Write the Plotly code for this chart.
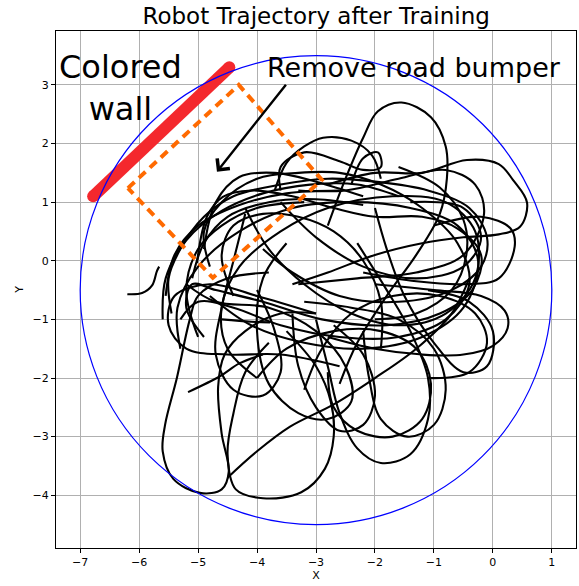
import plotly.graph_objects as go

# ---- data ----
x_range = [-7.41, 1.41]
y_range = [-4.9, 3.92]
x_ticks = [-7, -6, -5, -4, -3, -2, -1, 0, 1]
y_ticks = [-4, -3, -2, -1, 0, 1, 2, 3]

arena_center = (-3.0, -0.5)
arena_radius = 4.0

wall_x = [-6.78, -4.47]
wall_y = [1.10, 3.30]

bumper_x = [-6.19, -4.31, -2.90, -4.75, -6.19]
bumper_y = [1.24, 3.00, 1.38, -0.29, 1.24]

arrow_tail = (-3.49, 3.03)
arrow_head = (-4.68, 1.52)

traj_x = [
    -6.2, -5.95, -5.78, -5.7, -5.66, None,
    -5.45, -5.5, -5.3, -4.9, -4.4, -3.6, -2.8, -2.0, -1.1, -0.4, -0.1, -0.2, -0.7, -1.6, -2.6, -3.4, -3.9, None,
    -4.8, -4.9, -4.6, -4.0, -3.3, -2.6, -1.9, -1.2, -0.6, -0.4, -0.8, -1.6, -2.6, -3.6, -4.4, -5.0, -5.3, None,
    -2.8, -2.5, -2.2, -1.95, -1.55, -1.05, -0.8, -0.78, -0.9, -1.3, -1.8, -2.3, -2.6, None,
    -2.8, -2.0, -1.2, -0.44, 0.1, 0.34, 0.58, 0.46, 0.1, -0.5, -1.2, -2.0, -2.8, -3.4, None,
    -1.0, -0.2, 0.3, 0.37, 0.1, -0.5, -1.3, -2.2, None,
    -2.0, -1.0, -0.2, 0.2, 0.25, 0.0, -0.5, -1.2, -2.0, -2.8, None,
    -3.0, -2.8, -2.6, -2.3, -1.9, -1.4, -1.1, -1.1, -1.4, -1.8, -2.3, None,
    -2.2, -2.1, -1.9, -1.45, -1.0, -0.8, -1.0, -1.6, -2.4, -3.2, None,
    -3.8, -4.5, -5.0, -5.14, -5.36, -5.56, -5.6, -5.42, -4.97, -4.6, -4.48, -4.6, -4.66, -4.55, -4.2, -3.6, -3.0, None,
    -3.8, -4.2, -4.4, -4.5, -4.36, -3.9, -3.25, -2.85, -2.7, -2.75, -3.0, -3.5, None,
    -4.5, -4.0, -3.44, -2.7, -2.0, -1.3, -0.7, -0.4, None,
    -3.5, -3.9, -4.0, -3.8, -3.3, -2.8, -2.4, -2.5, -3.0, -3.8, -4.7, -5.2, None,
    -3.0, -4.0, -4.8, -5.4, -5.5, -5.2, -4.5, -3.6, -2.6, None,
    -2.4, -2.2, -1.95, -1.9, -2.2, -2.6, -3.2, -3.6, -3.6, None,
    -4.2, -3.8, -3.2, -2.4, -1.6, -0.8, -0.3, -0.3, -0.8, -1.7, -2.8, -3.6, -4.3, -4.6, -4.5, -4.0, None,
    -3.6, -3.0, -2.2, -1.3, -0.5, -0.2, -0.5, -1.4, None,
    -4.6, -4.1, -3.78, None,
    -5.17, -4.63, -4.3, -3.9, None,
    -5.02, -4.85, -4.58, -4.1, -3.4, -2.7, -2.0, -1.2, -0.6, -0.2, -0.35, -0.9, -1.8, -2.9, -3.9, -4.7, -5.1, -5.2, -4.9, None,
    -5.3, -5.35, -5.0, -4.3, -3.4, -2.4, -1.4, -0.6, -0.25, -0.5, -1.2, -2.2, -3.2, -4.1, -4.8, None,
    -2.8, -2.7, -2.3, -1.7, -1.2, -1.05, -1.3, -1.9, -2.7, -3.5, -4.0, None,
    -3.3, -2.5, -1.6, -0.8, -0.3, -0.15, -0.5, -1.3, -2.3, -3.3, None,
    -4.2, -4.4, -4.6, -4.7, -4.4, -3.9, -3.6, -3.7, -4.0, None,
    -2.0, -1.8, -1.5, -1.0, -0.5, -0.1, 0.0, -0.4, -1.1, None,
    -5.55, -5.4, -5.0, -4.3, -3.5, -2.6, None,
    -5.1, -4.9, -4.5, -3.8, -3.0, -2.2, None,
    -1.6, -0.9, -0.5, -0.45, -0.7, -1.3, -2.0, None,
    -3.4, -3.3, -3.0, -2.6, -2.2, -2.0, -2.2, -2.7, None,
    -3.2, -2.9, -2.4, -1.7, -0.9, -0.3, -0.1, -0.4, -1.1, None,
    -5.6, -5.55, -5.2, -4.6, -3.9, -3.1, -2.3, -1.6, None,
    -5.0, -5.2, -5.0, -4.6, -4.0, -3.2, None,
    -4.4, -4.6, -4.4, -3.9, -3.3, -2.7, -2.2, -1.9, -1.9, None,
    -4.9, -4.7, -4.3, -3.7, -3.0, -2.2, None,
    -3.7, -3.5, -3.2, -2.88, -2.4, -2.05, -1.9,
]
traj_y = [
    -0.57, -0.55, -0.42, -0.18, -0.1, None,
    -0.9, -0.3, 0.2, 0.75, 1.1, 1.3, 1.4, 1.35, 1.2, 0.9, 0.4, -0.1, -0.5, -0.7, -0.6, -0.2, 0.2, None,
    -0.1, 0.5, 1.0, 1.4, 1.5, 1.5, 1.3, 0.9, 0.3, -0.4, -1.0, -1.3, -1.3, -1.1, -0.8, -0.7, -1.0, None,
    0.6, 1.4, 2.1, 2.55, 2.7, 2.45, 1.95, 1.4, 0.8, 0.1, -0.6, -1.4, -2.1, None,
    1.3, 1.5, 1.5, 1.72, 1.65, 1.38, 0.99, 0.58, 0.45, 0.4, 0.3, 0.1, -0.2, -0.4, None,
    0.6, 0.75, 0.55, 0.24, -0.3, -0.4, -0.35, -0.2, None,
    -0.4, -0.5, -0.6, -0.85, -1.15, -1.45, -1.6, -1.6, -1.5, -1.3, None,
    -1.0, -1.8, -2.6, -3.2, -3.45, -3.3, -2.7, -2.0, -1.2, -0.5, 0.3, None,
    -1.2, -2.0, -2.7, -3.0, -2.8, -2.2, -1.5, -1.0, -0.8, -0.7, None,
    -0.2, -0.3, -0.6, -1.0, -2.0, -2.8, -3.25, -3.72, -3.96, -3.9, -3.6, -2.95, -2.15, -1.6, -1.2, -0.9, -0.9, None,
    -1.4, -1.9, -2.6, -3.3, -3.9, -4.05, -3.95, -3.55, -3.0, -2.4, -1.8, -1.2, None,
    -3.7, -3.25, -2.83, -2.45, -2.0, -1.5, -0.9, -0.3, None,
    0.3, -0.3, -1.2, -2.1, -2.6, -2.7, -2.4, -1.8, -1.2, -0.8, -0.7, -0.4, None,
    -0.9, -0.6, -0.4, -0.6, -1.1, -1.5, -1.6, -1.6, -1.8, None,
    1.3, 1.75, 1.85, 1.6, 1.55, 1.7, 1.85, 1.6, 1.2, None,
    0.9, 0.2, -0.4, -0.9, -1.1, -0.9, -0.3, 0.5, 1.0, 1.1, 0.9, 0.5, -0.1, -0.8, -1.5, -2.0, None,
    1.0, 0.4, -0.1, -0.3, -0.1, 0.4, 0.9, 1.0, None,
    -1.0, -1.04, -1.05, None,
    -2.24, -1.97, -1.75, -1.6, None,
    -0.04, 0.75, 1.09, 1.2, 1.1, 0.9, 0.75, 0.75, 0.55, 0.1, -0.5, -0.9, -1.1, -1.0, -0.7, -0.5, -0.4, -0.8, -1.3, None,
    -1.5, -0.8, -0.1, 0.5, 0.9, 1.0, 0.9, 0.6, 0.0, -0.8, -1.3, -1.5, -1.4, -1.1, -0.6, None,
    -1.9, -2.5, -2.9, -3.0, -2.7, -2.1, -1.5, -1.2, -1.2, -1.5, -2.0, None,
    1.2, 1.2, 1.4, 1.55, 1.3, 0.8, 0.1, -0.2, -0.3, -0.4, None,
    0.8, 0.0, -0.8, -1.6, -2.2, -2.3, -1.9, -1.2, -0.5, None,
    0.9, 0.2, -0.6, -1.4, -1.9, -1.8, -1.2, -0.7, -0.5, None,
    -0.6, 0.1, 0.6, 0.95, 1.15, 1.2, None,
    -0.3, 0.3, 0.75, 1.0, 1.05, 0.95, None,
    1.6, 1.25, 0.7, 0.1, -0.5, -0.9, -1.0, None,
    -0.9, -1.8, -2.5, -2.9, -2.8, -2.3, -1.6, -1.1, None,
    -2.2, -1.5, -0.9, -0.6, -0.6, -0.9, -1.4, -1.9, -2.0, None,
    -1.0, -0.3, 0.35, 0.85, 1.15, 1.3, 1.3, 1.1, None,
    -1.3, -0.5, 0.2, 0.6, 0.9, 1.0, None,
    -0.6, 0.1, 0.6, 0.8, 0.75, 0.5, 0.0, -0.7, -1.5, None,
    0.2, 1.0, 1.43, 1.5, 1.35, 1.1, None,
    1.2, 1.67, 1.95, 2.1, 2.05, 1.8, 1.4,
]

# ---- figure ----
fig = go.Figure()

fig.add_shape(type="circle", xref="x", yref="y",
              x0=arena_center[0] - arena_radius, x1=arena_center[0] + arena_radius,
              y0=arena_center[1] - arena_radius, y1=arena_center[1] + arena_radius,
              line=dict(color="blue", width=1.2), layer="above")

fig.add_trace(go.Scatter(x=traj_x, y=traj_y, mode="lines",
                         line=dict(color="black", width=2.1, shape="spline", smoothing=1.0),
                         connectgaps=False, hoverinfo="skip", showlegend=False))

fig.add_trace(go.Scatter(x=wall_x, y=wall_y, mode="lines+markers",
                         line=dict(color="#f4282d", width=12),
                         marker=dict(color="#f4282d", size=12),
                         hoverinfo="skip", showlegend=False))

fig.add_trace(go.Scatter(x=bumper_x, y=bumper_y, mode="lines",
                         line=dict(color="#ff6a00", width=4, dash="9px,6px"),
                         hoverinfo="skip", showlegend=False))

fig.add_annotation(x=arrow_head[0], y=arrow_head[1], ax=arrow_tail[0], ay=arrow_tail[1],
                   xref="x", yref="y", axref="x", ayref="y", text="",
                   showarrow=True, arrowhead=4, arrowsize=1.3, arrowwidth=2.4, arrowcolor="black")

fig.add_annotation(x=-6.32, y=2.95, xref="x", yref="y", text="Colored<br>wall",
                   showarrow=False, font=dict(family="DejaVu Sans", size=32, color="black"),
                   align="center")
fig.add_annotation(x=-1.34, y=3.29, xref="x", yref="y", text="Remove road bumper",
                   showarrow=False, font=dict(family="DejaVu Sans", size=27, color="black"))

axis_common = dict(showgrid=True, gridcolor="#b0b0b0", gridwidth=1, zeroline=False,
                   showline=True, linecolor="black", linewidth=1, mirror=True,
                   ticks="outside", ticklen=4, tickcolor="black", automargin=False,
                   tickfont=dict(family="DejaVu Sans", size=11, color="black"))

fig.update_xaxes(range=x_range, tickvals=x_ticks, title=dict(text="X", standoff=2,
                 font=dict(family="DejaVu Sans", size=11, color="black")), **axis_common)
fig.update_yaxes(range=y_range, tickvals=y_ticks, title=dict(text="Y", standoff=6,
                 font=dict(family="DejaVu Sans", size=11, color="black")), **axis_common)

fig.update_layout(
    width=579, height=586,
    margin=dict(l=56, r=3, t=31, b=38),
    paper_bgcolor="white", plot_bgcolor="white",
    title=dict(text="Robot Trajectory after Training", x=0.546, xanchor="center",
               y=0.972, yanchor="middle",
               font=dict(family="DejaVu Sans", size=23, color="black")),
)

fig.write_html("out.html", config={"displayModeBar": False},
               post_script="document.body.style.margin='0px';document.body.style.overflow='hidden';")
